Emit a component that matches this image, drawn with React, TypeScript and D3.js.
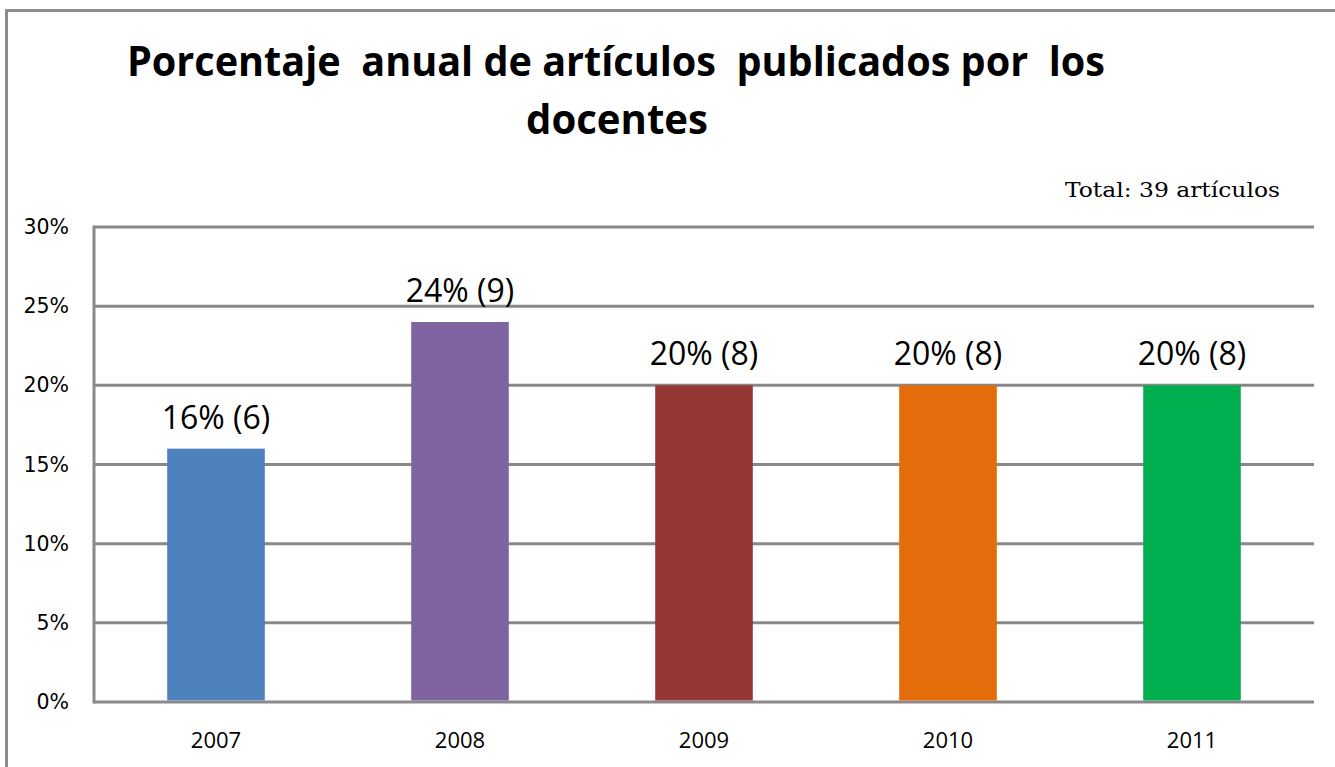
import React from "react";
import * as d3 from "d3";

const years = ["2007", "2008", "2009", "2010", "2011"];
const percents = [16, 24, 20, 20, 20];
const counts = [6, 9, 8, 8, 8];
const barColors = ["#4F81BD", "#8064A2", "#953735", "#E46C0A", "#00B050"];
const yTicks = [0, 5, 10, 15, 20, 25, 30];
const titleLines = ["Porcentaje  anual de artículos  publicados por  los", "docentes"];
const totalNote = "Total: 39 artículos";

const W = 1335;
const H = 767;
const plot = { left: 94, right: 1314, top: 227, bottom: 702 };

export default function App() {
  const x = d3.scaleBand<string>().domain(years).range([plot.left, plot.right]).paddingInner(0.6).paddingOuter(0.3);
  const y = d3.scaleLinear().domain([0, 30]).range([plot.bottom, plot.top]);
  const grid = "#898989";

  return (
    <svg width={W} height={H} style={{ position: "absolute", left: 0, top: 0, background: "#fff" }}>
      <rect x={0} y={0} width={W} height={H} fill="#fff" />
      {/* outer border */}
      <path d={`M6.5,${H + 5} L6.5,10.5 L${W + 5},10.5`} fill="none" stroke="#8c8c8c" strokeWidth={3} />

      {/* title */}
      <text x={616} y={76} textAnchor="middle" fontFamily="'Open Sans', sans-serif" fontWeight="bold" fontSize={41}
        textLength={978} lengthAdjust="spacingAndGlyphs" fill="#000" style={{ whiteSpace: "pre" }}>
        {titleLines[0]}
      </text>
      <text x={617} y={134} textAnchor="middle" fontFamily="'Open Sans', sans-serif" fontWeight="bold" fontSize={41}
        textLength={182} lengthAdjust="spacingAndGlyphs" fill="#000">
        {titleLines[1]}
      </text>

      <text x={1280} y={197} textAnchor="end" fontFamily="'DejaVu Serif', serif" fontSize={21}
        textLength={215} lengthAdjust="spacingAndGlyphs" fill="#000">
        {totalNote}
      </text>

      {/* gridlines */}
      {yTicks.map((t) => (
        <line key={t} x1={plot.left} x2={plot.right} y1={y(t)} y2={y(t)} stroke={grid} strokeWidth={3} />
      ))}
      <line x1={plot.left} x2={plot.left} y1={plot.top - 1.5} y2={plot.bottom + 1.5} stroke={grid} strokeWidth={3} />

      {/* y tick labels */}
      {yTicks.map((t) => (
        <text key={t} x={69} y={y(t) + 7} textAnchor="end" fontFamily="'DejaVu Sans', sans-serif" fontSize={20.5} fill="#000">
          {`${t}%`}
        </text>
      ))}

      {/* bars */}
      {years.map((yr, i) => (
        <rect key={yr} x={x(yr)} y={y(percents[i])} width={x.bandwidth()} height={plot.bottom - 1.5 - y(percents[i])} fill={barColors[i]} />
      ))}

      {/* data labels */}
      {years.map((yr, i) => (
        <text key={yr} x={(x(yr) as number) + x.bandwidth() / 2} y={y(percents[i]) - 20} textAnchor="middle"
          fontFamily="'Open Sans', sans-serif" fontSize={32} fill="#000">
          {`${percents[i]}% (${counts[i]})`}
        </text>
      ))}

      {/* x labels */}
      {years.map((yr) => (
        <text key={yr} x={(x(yr) as number) + x.bandwidth() / 2} y={748} textAnchor="middle"
          fontFamily="'Open Sans', sans-serif" fontSize={22} fill="#000">
          {yr}
        </text>
      ))}
    </svg>
  );
}
